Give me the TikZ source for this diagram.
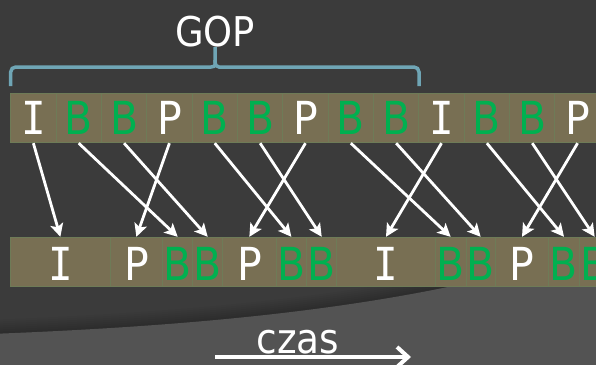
\documentclass[tikz,border=0pt]{standalone}
\usepackage{fontspec}
\setmainfont{DejaVu Sans}[FakeStretch=0.9]
\newfontfamily\monoI{DejaVu Sans Mono}[FakeStretch=0.9]
\usetikzlibrary{arrows.meta}
\definecolor{bgdark}{HTML}{3B3B3B}
\definecolor{bglight}{HTML}{535353}
\definecolor{cellfill}{HTML}{786F53}
\definecolor{celledge}{HTML}{6E7B57}
\definecolor{bgreen}{HTML}{00B050}
\definecolor{bracec}{HTML}{6FA5B5}
\begin{document}
\begin{tikzpicture}[x=1pt,y=-1pt,
  cellbase/.style={draw=celledge, line width=1pt, fill=cellfill, inner sep=0pt,
    font=\fontsize{45.5}{45.5}\selectfont, text depth=0pt},
  wcell/.style={cellbase, text=white},
  gcell/.style={cellbase, text=bgreen},
  icell/.style={cellbase, text=white, font=\monoI\fontsize{45.5}{45.5}\selectfont},
  arr/.style={draw=white, line width=2.8pt, -{Stealth[length=13pt,width=13pt,inset=3pt]}},
  bracestyle/.style={draw=bracec, line width=3.5pt, rounded corners=5pt},
  label/.style={text=white, inner sep=0pt, anchor=base}]
\useasboundingbox (0,0) rectangle (596,364);
\clip (0,0) rectangle (596,364);
% background
\fill[bgdark] (0,0) rectangle (596,364);
\foreach \d in {2,4,...,14}
  \fill[black, opacity=0.03, shift={(0,-\d)}]
    (-10,334) .. controls (250,324) and (450,300) .. (620,240) -- (620,380) -- (-10,380) -- cycle;
\fill[bglight] (-10,334) .. controls (250,324) and (450,300) .. (620,240) -- (620,380) -- (-10,380) -- cycle;
% top row
\foreach \L/\s [count=\i from 0] in {I/icell,B/gcell,B/gcell,P/wcell,B/gcell,B/gcell,P/wcell,B/gcell,B/gcell,I/icell,B/gcell,B/gcell,P/wcell}
  \node[\s, minimum width=45.35pt, minimum height=49.4pt, text height=33.2pt]
    (t\i) at ({10.7+45.35*(\i+0.5)},118) {\L};
% bottom row
\foreach \L/\s/\a/\b [count=\i from 0] in {I/icell/10.7/110,P/wcell/110/162.7,B/gcell/162.7/192.7,B/gcell/192.7/222.7,P/wcell/222.7/276,B/gcell/276/306.7,B/gcell/306.7/336.7,I/icell/336.7/435.3,B/gcell/435.3/466,B/gcell/466/495.3,P/wcell/495.3/548.7,B/gcell/548.7/579.3,B/gcell/579.3/610}
  \node[\s, minimum width={(\b-\a)*1pt}, minimum height=48.7pt, text height=37pt]
    (b\i) at ({(\a+\b)/2},261.65) {\L};
% arrows
\foreach \s/\e in {0/0,1/2,2/3,3/1,4/5,5/6,6/4,7/8,8/9,9/7,10/11,11/12,12/10}
  \draw[arr] (t\s.south) -- (b\e.north);
% brace
\coordinate (brL) at (10.7,86);
\coordinate (brR) at (419,86);
\coordinate (brT) at (215,47);
\draw[bracestyle] (brL) -- (10.7,67) -- (206,67) .. controls (213,67) and (215,66) .. (215,60) -- (brT);
\draw[bracestyle] (brR) -- (419,67) -- (224,67) .. controls (217,67) and (215,66) .. (215,60);
% labels
\node[label, font=\fontsize{41}{41}\selectfont] (gop) at (215,46) {GOP};
\node[label, font=\fontsize{41.6}{41.6}\selectfont] (czas) at (298,353.3) {czas};
\coordinate (ta) at (215,357);
\coordinate (tb) at (411,357);
\draw[draw=white, line width=4pt, -{Straight Barb[length=11pt,width=20pt]}] (ta) -- (tb);
\end{tikzpicture}
\end{document}
